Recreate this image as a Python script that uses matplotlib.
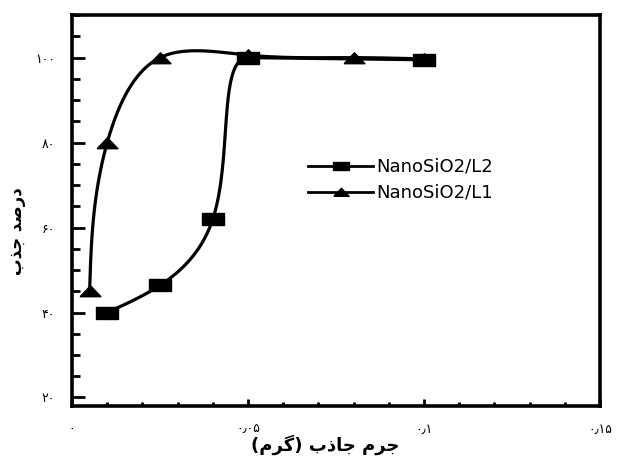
import numpy as np
import matplotlib.pyplot as plt

# adsorbent mass (g) vs. removal percent
x_l2 = [0.01, 0.025, 0.04, 0.05, 0.1]
y_l2 = [40, 46.4, 62, 100, 99.5]
x_l1 = [0.005, 0.01, 0.025, 0.05, 0.08, 0.1]
y_l1 = [45, 80, 100, 100.6, 100, 99.7]

xticks = [0, 0.05, 0.1, 0.15]
xtick_labels = ['۰', '۰٫۰۵', '۰٫۱', '۰٫۱۵']
yticks = [20, 40, 60, 80, 100]
ytick_labels = ['۲۰', '۴۰', '۶۰', '۸۰', '۱۰۰']

# Persian labels written in presentation forms, visual order
xlabel = '(\uFEE1\uFEAE\uFB94) \uFE8F\uFEAB\uFE8E\uFE9F \uFEE1\uFEAE\uFE9F'
ylabel = '\uFE8F\uFEAC\uFE9F \uFEAA\uFEBB\uFEAD\uFEA9'

XMAX, YMIN, YMAX = 0.15, 18, 110


def cubic_spline(t, f, tt, end_slope=None):
    # natural at the start; natural or clamped at the end
    n = len(t)
    h = np.diff(t)
    A = np.zeros((n, n))
    r = np.zeros(n)
    A[0, 0] = 1
    for i in range(1, n - 1):
        A[i, i - 1] = h[i - 1]
        A[i, i] = 2 * (h[i - 1] + h[i])
        A[i, i + 1] = h[i]
        r[i] = 6 * ((f[i + 1] - f[i]) / h[i] - (f[i] - f[i - 1]) / h[i - 1])
    if end_slope is None:
        A[-1, -1] = 1
    else:
        A[-1, -2] = h[-1]
        A[-1, -1] = 2 * h[-1]
        r[-1] = 6 * (end_slope - (f[-1] - f[-2]) / h[-1])
    M = np.linalg.solve(A, r)
    idx = np.clip(np.searchsorted(t, tt) - 1, 0, n - 2)
    t0, t1, hh = t[idx], t[idx + 1], h[idx]
    return (M[idx] * (t1 - tt) ** 3 / (6 * hh) + M[idx + 1] * (tt - t0) ** 3 / (6 * hh)
            + (f[idx] / hh - M[idx] * hh / 6) * (t1 - tt)
            + (f[idx + 1] / hh - M[idx + 1] * hh / 6) * (tt - t0))


def to_px(x, y):
    return np.asarray(x) / XMAX * 528, np.asarray(y) / 20 * 85


def from_px(u, v):
    return u * XMAX / 528, v * 20 / 85


def smooth(x, y, end_dir=None, n=400):
    # parametric spline in roughly screen-proportional units
    u, v = to_px(x, y)
    t = np.concatenate([[0], np.cumsum(np.hypot(np.diff(u), np.diff(v)))])
    tt = np.linspace(0, t[-1], n)
    su = cubic_spline(t, u, tt, None if end_dir is None else end_dir[0])
    sv = cubic_spline(t, v, tt, None if end_dir is None else end_dir[1])
    return from_px(su, sv)


rect = [(-1, -0.55), (1, -0.55), (1, 0.55), (-1, 0.55), (-1, -0.55)]
tri = [(-1, -0.5), (1, -0.5), (0, 0.55), (-1, -0.5)]

fig = plt.figure(figsize=(6.18, 4.59), dpi=100)
ax = fig.add_axes([0.1165, 0.1155, 0.8545, 0.8515])

# L2: spline up to the plateau, flat run after it
sx, sy = smooth(x_l2[:4], y_l2[:4], end_dir=(0.55, 0.0))
ax.plot(np.r_[sx, x_l2[4]], np.r_[sy, y_l2[4]], color='black', lw=2.3)
sx, sy = smooth(x_l1, y_l1)
ax.plot(sx, sy, color='black', lw=2.3)

ax.plot(x_l1, y_l1, ls='none', marker=tri, ms=15, color='black')
ax.plot(x_l2, y_l2, ls='none', marker=rect, ms=16, color='black')

# legend proxies
ax.plot([], [], color='black', lw=2, marker=rect, ms=11, label='NanoSiO2/L2')
ax.plot([], [], color='black', lw=2, marker=tri, ms=11, label='NanoSiO2/L1')
handles, labels = ax.get_legend_handles_labels()
ax.legend(handles, labels, loc='upper left', bbox_to_anchor=(0.43, 0.658),
          frameon=False, fontsize=13, handlelength=3.6, handletextpad=0.15,
          borderpad=0, labelspacing=0.45)

ax.set_xlim(0, XMAX)
ax.set_ylim(YMIN, YMAX)
ax.set_xticks(xticks)
ax.set_xticklabels(xtick_labels, fontsize=9)
ax.set_yticks(yticks)
ax.set_yticklabels(ytick_labels, fontsize=9)
ax.set_xticks(np.arange(0, 0.151, 0.01), minor=True)
ax.set_yticks(np.arange(20, 111, 5), minor=True)
ax.tick_params(axis='x', which='major', direction='in', length=5, width=2, pad=12)
ax.tick_params(axis='x', which='minor', direction='in', length=3, width=2)
ax.tick_params(axis='y', which='major', direction='in', length=9, width=2, pad=12)
ax.tick_params(axis='y', which='minor', direction='in', length=6, width=2)
for s in ax.spines.values():
    s.set_linewidth(2.6)

ax.set_xlabel(xlabel, fontsize=13, fontweight='bold', va='center')
ax.xaxis.set_label_coords(0.479, -0.1)
ax.set_ylabel(ylabel, fontsize=12, fontweight='bold')
ax.yaxis.set_label_coords(-0.088, 0.448)

fig.savefig('out.png', dpi=100)
